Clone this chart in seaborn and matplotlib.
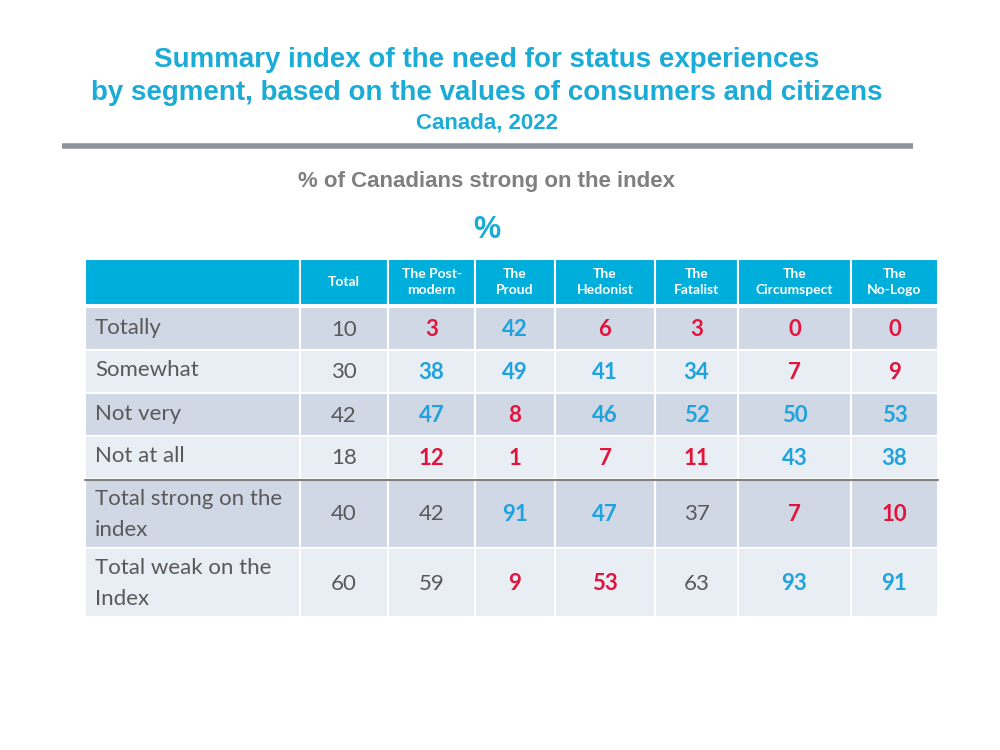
import matplotlib
matplotlib.use("Agg")
import matplotlib.pyplot as plt
import seaborn as sns

sns.set_theme(style="white")
plt.rcParams['font.family'] = ['Lato', 'DejaVu Sans']

# --- data ---
columns = ["Total", "The Post-\nmodern", "The\nProud", "The\nHedonist", "The\nFatalist",
           "The\nCircumspect", "The\nNo-Logo"]
row_labels = ["Totally", "Somewhat", "Not very", "Not at all",
              "Total strong on the\nindex", "Total weak on the\nIndex"]
totally    = [10, 3, 42, 6, 3, 0, 0]
somewhat   = [30, 38, 49, 41, 34, 7, 9]
not_very   = [42, 47, 8, 46, 52, 50, 53]
not_at_all = [18, 12, 1, 7, 11, 43, 38]
strong     = [40, 42, 91, 47, 37, 7, 10]
weak       = [60, 59, 9, 53, 63, 93, 91]
# significance flags: 'b' higher (blue), 'r' lower (red), 'n' neutral
sig_totally    = ['n', 'r', 'b', 'r', 'r', 'r', 'r']
sig_somewhat   = ['n', 'b', 'b', 'b', 'b', 'r', 'r']
sig_not_very   = ['n', 'b', 'r', 'b', 'b', 'b', 'b']
sig_not_at_all = ['n', 'r', 'r', 'r', 'r', 'b', 'b']
sig_strong     = ['n', 'n', 'b', 'b', 'n', 'r', 'r']
sig_weak       = ['n', 'n', 'r', 'r', 'n', 'b', 'b']

values = [totally, somewhat, not_very, not_at_all, strong, weak]
sigs = [sig_totally, sig_somewhat, sig_not_very, sig_not_at_all, sig_strong, sig_weak]

# --- layout (pixels) ---
col_w = [215, 88, 87, 80, 100, 83, 113, 87]
header_h = 46
row_h = [43, 43, 43, 43, 69, 69]
x0, y0 = 85, 259

CYAN = "#00AEDB"
TITLE = "#1AABD6"
BLUE = "#1FA3DE"
RED = "#E0143C"
GREY = "#595959"
DARK_ROW = "#D0D8E6"
LIGHT_ROW = "#E9EDF4"
sig_color = {'b': BLUE, 'r': RED, 'n': GREY}

fig = plt.figure(figsize=(10, 7.5), dpi=100)
ax = fig.add_axes([0, 0, 1, 1])
ax.set_xlim(0, 1000)
ax.set_ylim(750, 0)
ax.axis('off')

# titles
ax.text(487, 60, "Summary index of the need for status experiences", ha='center', va='center',
        fontsize=20, fontweight='bold', color=TITLE, family='Liberation Sans')
ax.text(487, 93, "by segment, based on the values of consumers and citizens", ha='center', va='center',
        fontsize=20, fontweight='bold', color=TITLE, family='Liberation Sans')
ax.text(487, 123, "Canada, 2022", ha='center', va='center',
        fontsize=16, fontweight='bold', color=TITLE, family='Liberation Sans')
ax.plot([62, 913], [146, 146], color="#8C959E", lw=4, solid_capstyle='butt')
ax.text(487, 181, "% of Canadians strong on the index", ha='center', va='center',
        fontsize=16, fontweight='bold', color="#7F7F7F", family='Liberation Sans')
ax.text(487, 230, "%", ha='center', va='center',
        fontsize=22, fontweight='bold', color=TITLE, family='Liberation Sans')

# column edges
edges = [x0]
for w in col_w:
    edges.append(edges[-1] + w)
xranges = [(edges[i], col_w[i]) for i in range(len(col_w))]

# header row
ax.broken_barh(xranges, (y0, header_h), facecolors=CYAN, edgecolor='white', lw=1.5)
for j, name in enumerate(columns):
    cx = edges[j + 1] + col_w[j + 1] / 2
    ax.text(cx, y0 + header_h / 2, name, ha='center', va='center', fontsize=10,
            fontweight='bold', color='white', linespacing=1.3)

# body rows
y = y0 + header_h + 2
for i, label in enumerate(row_labels):
    h = row_h[i]
    ax.broken_barh(xranges, (y, h), facecolors=DARK_ROW if i % 2 == 0 else LIGHT_ROW,
                   edgecolor='white', lw=1.5)
    two_line = "\n" in label
    ax.text(95, y + h / 2 + (1 if two_line else -1), label, ha='left', va='center',
            fontsize=16, color=GREY, linespacing=1.65)
    for j, v in enumerate(values[i]):
        s = sigs[i][j]
        cx = edges[j + 1] + col_w[j + 1] / 2
        ax.text(cx, y + h / 2 + 1, str(v), ha='center', va='center', fontsize=16,
                color=sig_color[s], fontweight='normal' if s == 'n' else 'bold')
    if i == 3:
        sep = y + h
    y += h

ax.plot([x0, edges[-1]], [sep + 0.5, sep + 0.5], color="#7F7F7F", lw=1.5)

fig.savefig("out.png", dpi=100)
